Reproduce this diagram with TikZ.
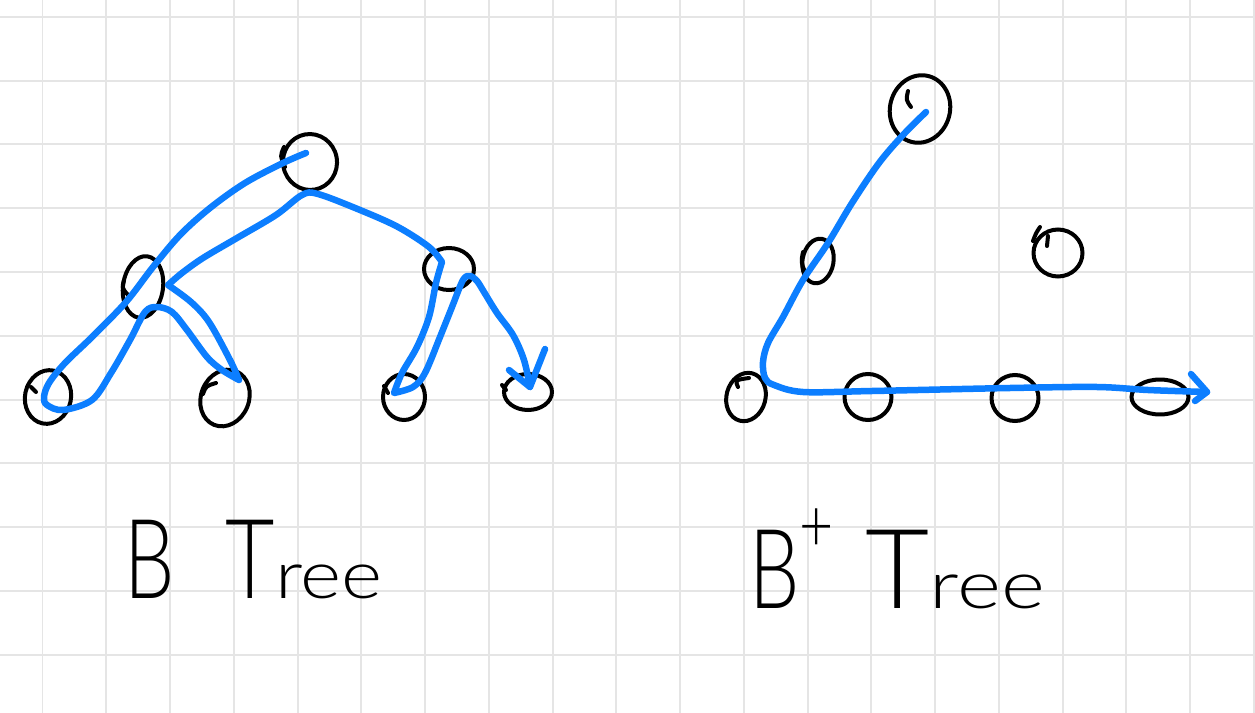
\documentclass[tikz,border=0pt]{standalone}
\usepackage{fontspec}
\newfontfamily\hand{Lato Light}
\usetikzlibrary{shapes.geometric}
\definecolor{gridgray}{RGB}{229,229,229}
\definecolor{penblue}{RGB}{12,126,255}
\tikzset{
  gridline/.style={draw=gridgray, line width=0.04cm},
  treenode/.style={ellipse, draw=black, line width=0.08cm, inner sep=0pt},
  hook/.style={draw=black, line width=0.08cm, line cap=round, line join=round},
  walk/.style={draw=penblue, line width=0.13cm, line cap=round, line join=round},
  title/.style={font=\hand\fontsize{63}{63}\selectfont, inner sep=0pt, anchor=base west}
}
\begin{document}
\begin{tikzpicture}[x=0.02cm,y=-0.02cm]
\useasboundingbox (0,0) rectangle (1255,713);
\fill[white] (0,0) rectangle (1255,713);
% grid
\foreach \i in {0,...,19} \draw[gridline] ({42.5+63.75*\i},0) -- ++(0,713);
\foreach \j in {0,...,10} \draw[gridline] (0,{17+63.75*\j}) -- ++(1255,0);

% ---------- B Tree ----------
\node[treenode, minimum width=1.08cm, minimum height=1.12cm, rotate=10] (broot) at (310,162) {};
\node[treenode, minimum width=0.80cm, minimum height=1.24cm, rotate=-8] (bl) at (143,287) {};
\node[treenode, minimum width=1.00cm, minimum height=0.84cm] (br) at (449,269) {};
\node[treenode, minimum width=0.92cm, minimum height=1.08cm, rotate=-12] (bl1) at (48,397) {};
\node[treenode, minimum width=0.96cm, minimum height=1.16cm, rotate=-22] (bl2) at (225,398) {};
\node[treenode, minimum width=0.84cm, minimum height=0.92cm] (bl3) at (404,397) {};
\node[treenode, minimum width=0.96cm, minimum height=0.72cm] (bl4) at (528,392) {};
% little pen hooks
\draw[hook] (284,147) .. controls (280,156) .. (285,167);
\draw[hook] (31,387) -- (36,392);
\draw[hook] (216,383) .. controls (206,386) .. (203,394);
\draw[hook] (384,386) -- (388,393);
\draw[hook] (502,385) -- (506,390);
\draw[hook] (124,280) .. controls (122,288) .. (128,295);

\coordinate (bstart) at (306,153);
\coordinate (bend) at (530,387);
\draw[walk] plot[smooth, tension=0.55] coordinates {(bstart) (283,163) (245,183) (210,208) (180,235) (153,267) (126,302) (92,337) (65,363) (49,383) (44,397) (47,405) (63,410) (92,400) (111,373) (130,340) (145,312) (157,307) (172,312) (187,330) (207,357) (222,370) (239,380)}
  -- plot[smooth, tension=0.55] coordinates {(239,380) (230,360) (209,322) (191,302) (168,285)}
  -- plot[smooth, tension=0.55] coordinates {(168,285) (182,273) (203,258) (237,238) (276,215) (302,195) (318,194) (360,210) (398,227) (429,247) (442,262)}
  -- plot[smooth, tension=0.55] coordinates {(442,262) (436,283) (429,317) (417,347) (402,373) (394,393)}
  -- plot[smooth, tension=0.55] coordinates {(394,393) (413,387) (425,373) (440,337) (452,307) (463,280) (470,276) (477,281) (484,292) (497,313) (513,335) (524,360) (bend)};
\coordinate (barrowl) at (509,370);
\coordinate (barrowr) at (545,349);
\draw[walk] (barrowl) -- (bend) -- (barrowr);

% ---------- B+ Tree ----------
\node[treenode, minimum width=1.20cm, minimum height=1.36cm, rotate=-15] (ptop) at (920,109) {};
\node[treenode, minimum width=0.62cm, minimum height=0.90cm, rotate=-10] (pmid) at (818,261) {};
\node[treenode, minimum width=0.98cm, minimum height=0.94cm] (pright) at (1058,253) {};
\node[treenode, minimum width=0.78cm, minimum height=0.98cm, rotate=-15] (pl1) at (746,397) {};
\node[treenode, minimum width=0.94cm, minimum height=0.92cm] (pl2) at (868,397) {};
\node[treenode, minimum width=0.94cm, minimum height=0.92cm] (pl3) at (1015,398) {};
\node[treenode, minimum width=1.14cm, minimum height=0.70cm] (pl4) at (1160,397) {};
\draw[hook] (908,91) .. controls (906,100) .. (911,107);
\draw[hook] (749,378) .. controls (735,380) .. (738,387);
\draw[hook] (1040,227) .. controls (1036,233) .. (1033,241);
\draw[hook] (1048,236) -- (1047,246);
\draw[hook] (803,252) .. controls (801,262) .. (805,272);

\coordinate (pstart) at (926,112);
\coordinate (pend) at (1207,392);
\draw[walk] plot[smooth, tension=0.55] coordinates {(pstart) (903,135) (879,163) (852,203) (828,243) (803,280) (783,317) (768,343) (763,362) (765,378) (774,385) (803,392) (872,391) (1010,388) (1097,387) (1148,390) (pend)};
\coordinate (parrowu) at (1191,374);
\coordinate (parrowd) at (1195,401);
\draw[walk] (parrowu) -- (pend) -- (parrowd);

% ---------- labels ----------
\node[title] (btitle) at (124,598) {\scalebox{0.72}[1]{B}\hspace{29pt}\scalebox{0.77}[1]{T}\scalebox{0.71}[0.6]{ree}};
\node[title] (ptitle) at (749,608) {\scalebox{0.72}[1]{B}\raisebox{32pt}{\scalebox{0.8}[1]{\fontsize{42}{42}\selectfont +}}\hspace{18pt}\scalebox{1.0}[1]{T}\scalebox{0.76}[0.6]{ree}};
\end{tikzpicture}
\end{document}
